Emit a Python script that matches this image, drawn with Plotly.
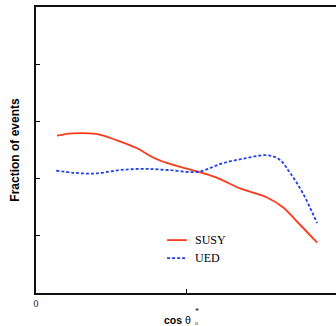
import plotly.graph_objects as go

susy_x = [0.07, 0.12, 0.2, 0.27, 0.337, 0.39, 0.457, 0.52, 0.6, 0.68, 0.77, 0.823, 0.87, 0.937]
susy_y = [2.75, 2.79, 2.78, 2.67, 2.53, 2.37, 2.24, 2.15, 2.02, 1.83, 1.67, 1.50, 1.25, 0.88]

ued_x = [0.067, 0.13, 0.2, 0.28, 0.36, 0.44, 0.54, 0.623, 0.703, 0.77, 0.81, 0.847, 0.89, 0.937]
ued_y = [2.14, 2.10, 2.09, 2.15, 2.17, 2.15, 2.12, 2.27, 2.36, 2.41, 2.34, 2.10, 1.74, 1.22]

series_names = ["SUSY", "UED"]
series_colors = ["#ff3a1a", "#2040e8"]
series_dash = ["solid", "3px,2px"]

x_tickvals = [0, 0.5, 1]
x_ticktext = ["0", "", "1"]
y_tickvals = [1, 2, 3, 4]

fig = go.Figure()
for xs, ys, name, col, dash in zip([susy_x, ued_x], [susy_y, ued_y], series_names, series_colors, series_dash):
    fig.add_trace(go.Scatter(x=xs, y=ys, mode="lines", name=name, showlegend=False,
                             line=dict(color=col, width=1.8, dash=dash, shape="spline", smoothing=1.0)))

# manual legend
shapes = []
annotations = []
legend_y = [0.185, 0.122]
for name, col, dash, ly in zip(series_names, series_colors, series_dash, legend_y):
    shapes.append(dict(type="line", xref="paper", yref="paper", x0=0.437, x1=0.503, y0=ly, y1=ly,
                       line=dict(color=col, width=1.8, dash=dash)))
    annotations.append(dict(text=name, xref="paper", yref="paper", x=0.523, y=ly,
                            xanchor="left", yanchor="middle", showarrow=False,
                            font=dict(family="Liberation Serif", size=12, color="black")))

annotations += [
    dict(text="<b>cos</b> θ", xref="paper", yref="paper", x=0.523, y=-0.094,
         xanchor="right", yanchor="middle", showarrow=False,
         font=dict(family="Liberation Sans", size=10.5, color="black")),
    dict(text="*", xref="paper", yref="paper", x=0.524, y=-0.066,
         xanchor="left", yanchor="middle", showarrow=False,
         font=dict(family="Liberation Serif", size=8, color="black")),
    dict(text="ll", xref="paper", yref="paper", x=0.523, y=-0.107,
         xanchor="left", yanchor="middle", showarrow=False,
         font=dict(family="Liberation Serif", size=5, color="black")),
]

fig.update_layout(
    width=336, height=326,
    margin=dict(l=36, r=0, t=7, b=33),
    paper_bgcolor="white", plot_bgcolor="white",
    showlegend=False,
    xaxis=dict(range=[0, 1.0], tickvals=x_tickvals, ticktext=x_ticktext,
               ticks="inside", ticklen=4, tickcolor="black",
               showline=True, linecolor="#111", linewidth=2, mirror=True,
               showgrid=False, zeroline=False,
               tickfont=dict(family="Liberation Serif", size=10, color="#222")),
    yaxis=dict(range=[0, 5], tickvals=y_tickvals, showticklabels=False,
               ticks="inside", ticklen=4, tickcolor="black",
               showline=True, linecolor="#111", linewidth=2, mirror=False,
               showgrid=False, zeroline=False,
               title=dict(text="<b>Fraction of events</b>", standoff=12,
                          font=dict(family="Liberation Sans", size=12, color="black"))),
    shapes=shapes,
    annotations=annotations,
)

fig.write_html("out.html")
